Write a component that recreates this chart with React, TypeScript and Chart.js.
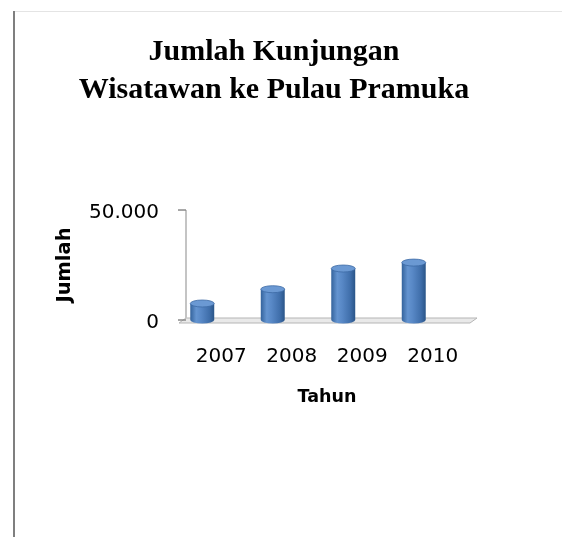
import { useEffect, useRef } from "react";
import { Chart, registerables } from "chart.js";

Chart.register(...registerables);

const categories = ["2007", "2008", "2009", "2010"];
const visitors = [7500, 14000, 23400, 26100];
const yTickValues = [0, 50000];
const titleLines = ["Jumlah Kunjungan", "Wisatawan ke Pulau Pramuka"];
const yAxisTitle = "Jumlah";
const xAxisTitle = "Tahun";

const SANS = "'DejaVu Sans', 'Noto Sans', sans-serif";
const SERIF = "'Liberation Serif', 'Times New Roman', serif";
const DEPTH = 19;
const CAT_PCT = 1;
const BAR_PCT = 0.34;

const fmt = (v: number) =>
  String(Math.round(v)).replace(/\B(?=(\d{3})+(?!\d))/g, ".");

function cylGradient(ctx: CanvasRenderingContext2D, x: number, half: number) {
  const g = ctx.createLinearGradient(x - half, 0, x + half, 0);
  g.addColorStop(0, "#34639c");
  g.addColorStop(0.25, "#6494d0");
  g.addColorStop(0.45, "#5888c6");
  g.addColorStop(0.8, "#3f6eaa");
  g.addColorStop(1, "#2a5588");
  return g;
}

const depthPlugin = {
  id: "depth3d",
  beforeDatasetsDraw(chart: any) {
    const { ctx, chartArea, scales } = chart;
    const y = scales.y;
    const zeroY = y.getPixelForValue(0);
    const topY = y.getPixelForValue(yTickValues[yTickValues.length - 1]);
    const L = chartArea.left;
    const R = chartArea.right;
    ctx.save();
    // floor
    ctx.beginPath();
    ctx.moveTo(L, zeroY - 2);
    ctx.lineTo(R + 9, zeroY - 2);
    ctx.lineTo(R + 2, zeroY + 3);
    ctx.lineTo(L - 7, zeroY + 3);
    ctx.closePath();
    ctx.fillStyle = "#e9e9e9";
    ctx.fill();
    ctx.strokeStyle = "#b5b5b5";
    ctx.lineWidth = 1;
    ctx.stroke();
    // back wall edge
    ctx.beginPath();
    ctx.moveTo(L, topY);
    ctx.lineTo(L, zeroY - 2);
    ctx.strokeStyle = "#c4c4c4";
    ctx.lineWidth = 2;
    ctx.stroke();
    // tick marks
    ctx.strokeStyle = "#8a8a8a";
    ctx.lineWidth = 1.5;
    for (const v of yTickValues) {
      const py = y.getPixelForValue(v);
      ctx.beginPath();
      ctx.moveTo(L - 8, py);
      ctx.lineTo(L, py);
      ctx.stroke();
    }
    ctx.restore();
    ctx.save();
    ctx.translate(-DEPTH, 0);
  },
  afterDatasetsDraw(chart: any) {
    const { ctx } = chart;
    const meta = chart.getDatasetMeta(0);
    meta.data.forEach((bar: any) => {
      const { x, y, base, width } = bar.getProps(["x", "y", "base", "width"], true);
      const rx = width / 2;
      const ry = 3.5;
      // rounded bottom
      ctx.beginPath();
      ctx.ellipse(x, base, rx, ry, 0, 0, Math.PI);
      ctx.fillStyle = cylGradient(ctx, x, rx);
      ctx.fill();
      // top cap
      ctx.beginPath();
      ctx.ellipse(x, y, rx, ry, 0, 0, Math.PI * 2);
      ctx.fillStyle = "#6b99d3";
      ctx.fill();
      ctx.strokeStyle = "#3c6aa4";
      ctx.lineWidth = 0.8;
      ctx.stroke();
    });
    ctx.restore();
  },
};

export default function App() {
  const ref = useRef<HTMLCanvasElement | null>(null);

  useEffect(() => {
    if (!ref.current) return;
    const chart = new Chart(ref.current, {
      type: "bar",
      data: {
        labels: categories,
        datasets: [
          {
            label: yAxisTitle,
            data: visitors,
            categoryPercentage: CAT_PCT,
            barPercentage: BAR_PCT,
            borderWidth: 0,
            backgroundColor: (c: any) => {
              const ch = c.chart;
              if (!ch.chartArea || c.dataIndex === undefined) return "#4f81bd";
              const xs = ch.scales.x;
              const x = xs.getPixelForValue(c.dataIndex);
              const half = ((xs.width / categories.length) * CAT_PCT * BAR_PCT) / 2;
              return cylGradient(ch.ctx, x, half);
            },
          },
        ],
      },
      options: {
        animation: false,
        responsive: false,
        devicePixelRatio: 1,
        layout: { padding: { left: 20, right: 34, top: 0, bottom: 129 } },
        plugins: {
          legend: { display: false },
          tooltip: { enabled: false },
          title: {
            display: true,
            text: titleLines,
            color: "#000",
            font: { family: SERIF, size: 30, weight: "bold", lineHeight: 1.267 },
            padding: { top: 33, bottom: 101 },
          },
        },
        scales: {
          x: {
            offset: true,
            grid: { display: false, drawTicks: false },
            border: { display: false },
            ticks: {
              color: "#000",
              font: { family: SANS, size: 20 },
              padding: 25,
              maxRotation: 0,
              autoSkip: false,
            },
            title: {
              display: true,
              text: xAxisTitle,
              color: "#000",
              font: { family: SANS, size: 17.5, weight: "bold" },
              padding: { top: 0, bottom: 0.5 },
            },
            afterFit: (s: any) => {
              s.height = 88;
            },
          },
          y: {
            min: 0,
            max: 50000,
            grid: { display: false, drawTicks: false },
            border: { display: false },
            afterBuildTicks: (s: any) => {
              s.ticks = yTickValues.map((v) => ({ value: v }));
            },
            ticks: {
              color: "#000",
              font: { family: SANS, size: 20 },
              padding: 27,
              labelOffset: 2.5,
              callback: (v: any) => fmt(Number(v)),
            },
            title: {
              display: true,
              text: yAxisTitle,
              color: "#000",
              font: { family: SANS, size: 19.5, weight: "bold" },
              padding: { top: 33.3, bottom: 0 },
            },
            afterFit: (s: any) => {
              s.width = 166;
            },
          },
          yR: {
            type: "linear",
            position: "right",
            display: true,
            grid: { display: false },
            border: { display: false },
            ticks: { display: false },
            afterFit: (s: any) => {
              s.width = 60;
            },
          },
        },
      },
      plugins: [depthPlugin],
    } as any);
    return () => chart.destroy();
  }, []);

  return (
    <div
      style={{
        position: "fixed",
        left: 0,
        top: 0,
        width: 562,
        height: 537,
        background: "#fff",
        overflow: "hidden",
      }}
    >
      <canvas
        ref={ref}
        width={562}
        height={537}
        style={{ position: "absolute", left: 0, top: 0, width: 562, height: 537 }}
      />
      <div
        style={{
          position: "absolute",
          left: 13,
          top: 11,
          width: 2,
          height: 526,
          background: "#7f7f7f",
        }}
      />
      <div
        style={{
          position: "absolute",
          left: 15,
          top: 11,
          width: 547,
          height: 1,
          background: "#e4e4e4",
        }}
      />
    </div>
  );
}
